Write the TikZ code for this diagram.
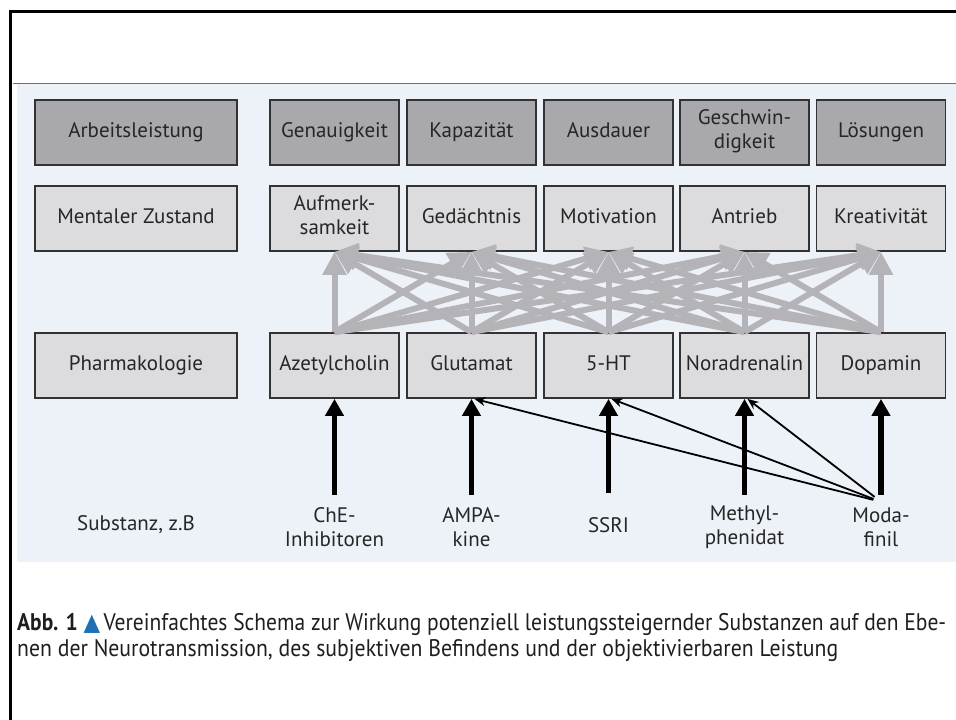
\documentclass[tikz,border=0pt]{standalone}
\usepackage{fontspec}
\usepackage{graphicx}
\setmainfont{PT Sans}
\newfontfamily\symfont{DejaVu Sans}
\usetikzlibrary{arrows.meta,calc}

\definecolor{panel}{HTML}{EDF1F8}
\definecolor{panelline}{HTML}{5F7585}
\definecolor{boxdark}{HTML}{A9A9AD}
\definecolor{boxlight}{HTML}{DCDCDF}
\definecolor{boxline}{HTML}{333333}
\definecolor{txt}{HTML}{262626}
\definecolor{link}{HTML}{B4B4B8}
\definecolor{tri}{HTML}{1F6FB5}
\definecolor{captxt}{HTML}{1E1E1E}

\begin{document}
\begin{tikzpicture}[x=1pt,y=-1pt,
  box/.style={draw=boxline, line width=1.8pt, minimum height=65pt, inner sep=0pt,
    align=center, font=\fontsize{21}{24}\selectfont, text=txt,
    execute at begin node=\strut, execute at end node=\strut},
  cell/.style={box, minimum width=129pt},
  headcell/.style={box, minimum width=202pt},
  toprow/.style={fill=boxdark},
  lowrow/.style={fill=boxlight},
  sublabel/.style={align=center, font=\fontsize{21}{24}\selectfont, text=txt,
    inner sep=0pt, minimum height=50pt},
  net/.style={draw=link, line width=6pt, -{Triangle[width=23pt,length=23pt]}},
  push/.style={draw=black, line width=5.5pt, -{Triangle[width=18pt,length=17pt]},
    shorten <=7pt},
  thinpush/.style={draw=black, line width=1.8pt, -{Stealth[width=9pt,length=11pt]},
    shorten <=8pt},
]
\useasboundingbox (0,0) rectangle (956,720);

% page frame and light panel
\draw[line width=3pt] (10,720) -- (10,11) -- (956,11);
\fill[panel] (17,84) rectangle (956,562);
\draw[panelline, line width=1.5pt] (13,83.5) -- (956,83.5);

% row headings
\node[headcell, toprow] (hA) at (136,132.5) {Arbeitsleistung};
\node[headcell, lowrow] (hM) at (136,218.5) {Mentaler Zustand};
\node[headcell, lowrow] (hP) at (136,365.5) {Pharmakologie};

% performance row
\node[cell, toprow] (a1) at (334.5,132.5) {Genauigkeit};
\node[cell, toprow] (a2) at (471.5,132.5) {Kapazität};
\node[cell, toprow] (a3) at (608.5,132.5) {Ausdauer};
\node[cell, toprow] (a4) at (744.5,132.5) {Geschwin-\\digkeit};
\node[cell, toprow] (a5) at (881,132.5) {Lösungen};

% mental state row
\node[cell, lowrow] (m1) at (334.5,218.5) {Aufmerk-\\samkeit};
\node[cell, lowrow] (m2) at (471.5,218.5) {Gedächtnis};
\node[cell, lowrow] (m3) at (608.5,218.5) {Motivation};
\node[cell, lowrow] (m4) at (744.5,218.5) {Antrieb};
\node[cell, lowrow] (m5) at (881,218.5) {Kreativität};

% transmitter row
\node[cell, lowrow] (p1) at (334.5,365.5) {Azetylcholin};
\node[cell, lowrow] (p2) at (471.5,365.5) {Glutamat};
\node[cell, lowrow] (p3) at (608.5,365.5) {5-HT};
\node[cell, lowrow] (p4) at (744.5,365.5) {Noradrenalin};
\node[cell, lowrow] (p5) at (881,365.5) {Dopamin};

% substances
\node[sublabel] (s0) at (136,525) {Substanz, z.B};
\node[sublabel] (s1) at (334.5,527) {ChE-\\Inhibitoren};
\node[sublabel] (s2) at (471.5,527) {AMPA-\\kine};
\node[sublabel] (s3) at (608.5,525) {SSRI};
\node[sublabel] (s4) at (744.5,527) {Methyl-\\phenidat};
\node[sublabel] (s5) at (881,527) {Moda-\\finil};

% every transmitter feeds every mental state
\foreach \i in {1,...,5}
  \foreach \j in {1,...,5}
    \draw[net] (p\i.north) -- (m\j.south);

% substance actions
\foreach \i in {1,...,5}
  \draw[push] (s\i.north) -- (p\i.south);
\foreach \t in {2,3,4}
  \draw[thinpush] (s5.north) -- ($(p\t.south)+(3,0)$);

% caption
\node[anchor=base west, inner sep=0pt, text=captxt, font=\fontsize{24}{28}\selectfont] (cap1) at (17,630)
  {\resizebox{929pt}{\height}{\textbf{Abb. 1} {\symfont\color{tri}\fontsize{24}{24}\selectfont ▲}\kern4pt Vereinfachtes Schema zur Wirkung potenziell leistungssteigernder Substanzen auf den Ebe-}};
\node[anchor=base west, inner sep=0pt, text=captxt, font=\fontsize{24}{28}\selectfont] (cap2) at (17,656)
  {\resizebox{821pt}{\height}{nen der Neurotransmission, des subjektiven Befindens und der objektivierbaren Leistung}};
\end{tikzpicture}
\end{document}
